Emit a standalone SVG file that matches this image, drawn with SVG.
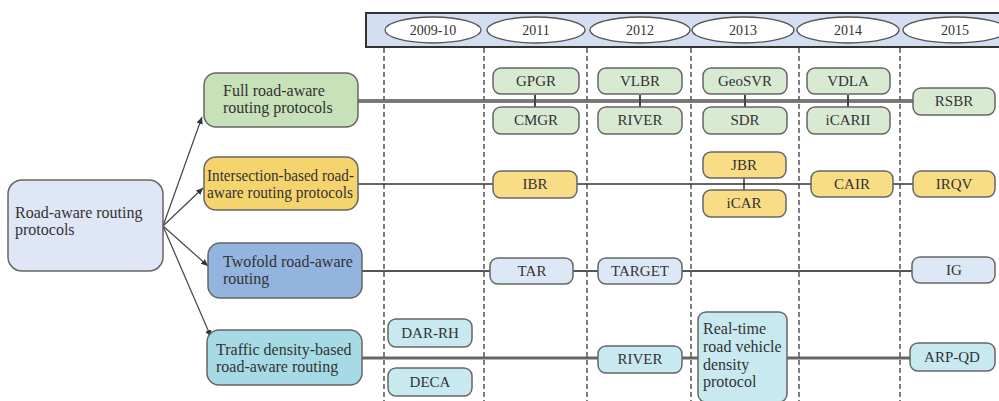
<svg xmlns="http://www.w3.org/2000/svg" width="999" height="401" viewBox="0 0 999 401">
<defs>
<marker id="ah" markerWidth="8" markerHeight="8" refX="7" refY="4" orient="auto" markerUnits="userSpaceOnUse">
<path d="M0,0.8 L7,4 L0,7.2 Z" fill="#333"/>
</marker>
</defs>
<style>
text{font-family:"Liberation Serif","DejaVu Serif",serif;fill:#333;}
.t{font-size:16px;}
.c{font-size:15px;text-anchor:middle;}
.y{font-size:14px;text-anchor:middle;}
.box{stroke:#666;stroke-width:1.5;}
.g{fill:#d9ead3;}
.yl{fill:#f8dc86;}
.b{fill:#dce8f6;}
.cy{fill:#c8e9f0;}
.dash{stroke:#555;stroke-width:1.5;stroke-dasharray:5,3;fill:none;}
.arr{stroke:#444;stroke-width:1.2;fill:none;marker-end:url(#ah);}
.ell{fill:#fff;stroke:#555;stroke-width:1.3;}
</style>
<rect width="999" height="401" fill="#fff"/>

<!-- header -->
<g id="header">
<rect x="366" y="13" width="640" height="34" fill="#d3dff0" stroke="#333" stroke-width="2"/>
<ellipse class="ell" cx="433" cy="30" rx="48" ry="13"/>
<ellipse class="ell" cx="536" cy="30" rx="49" ry="13"/>
<ellipse class="ell" cx="640" cy="30" rx="50" ry="13"/>
<ellipse class="ell" cx="743" cy="30" rx="51" ry="13"/>
<ellipse class="ell" cx="848" cy="30" rx="51" ry="13"/>
<ellipse class="ell" cx="955" cy="30" rx="52" ry="13"/>
<text class="y" x="433" y="35">2009-10</text>
<text class="y" x="536" y="35">2011</text>
<text class="y" x="640" y="35">2012</text>
<text class="y" x="743" y="35">2013</text>
<text class="y" x="848" y="35">2014</text>
<text class="y" x="955" y="35">2015</text>
</g>

<!-- connectors -->
<g id="connectors">
<line class="dash" x1="384" y1="48" x2="384" y2="401"/>
<line class="dash" x1="484" y1="48" x2="484" y2="401"/>
<line class="dash" x1="587" y1="48" x2="587" y2="401"/>
<line class="dash" x1="691" y1="48" x2="691" y2="401"/>
<line class="dash" x1="799" y1="48" x2="799" y2="401"/>
<line class="dash" x1="900" y1="48" x2="900" y2="401"/>
<line class="arr" x1="163" y1="226" x2="202" y2="117"/>
<line class="arr" x1="163" y1="226" x2="203" y2="188"/>
<line class="arr" x1="163" y1="226" x2="208" y2="266"/>
<line class="arr" x1="163" y1="226" x2="211" y2="337"/>
<line x1="358" y1="101" x2="913" y2="101" stroke="#555" stroke-width="3.5"/>
<line x1="358" y1="101" x2="913" y2="101" stroke="#999" stroke-width="1"/>
<line x1="535" y1="95" x2="535" y2="107" stroke="#444" stroke-width="2"/>
<line x1="640" y1="95" x2="640" y2="107" stroke="#444" stroke-width="2"/>
<line x1="745" y1="95" x2="745" y2="107" stroke="#444" stroke-width="2"/>
<line x1="848" y1="95" x2="848" y2="107" stroke="#444" stroke-width="2"/>
<line x1="358" y1="184" x2="913" y2="184" stroke="#333" stroke-width="1.3"/>
<line x1="744" y1="178" x2="744" y2="190" stroke="#333" stroke-width="1.5"/>
<line x1="362" y1="271" x2="912" y2="271" stroke="#555" stroke-width="2"/>
<line x1="362" y1="358" x2="910" y2="358" stroke="#666" stroke-width="3"/>
</g>

<!-- root -->
<g id="root">
<rect class="box" x="8" y="180" width="155" height="91" rx="14" fill="#dfe6f5"/>
<text class="t" x="15" y="218">Road-aware routing</text>
<text class="t" x="15" y="235">protocols</text>
</g>

<!-- categories -->
<g id="cat-full">
<rect class="box" x="204" y="73" width="154" height="54" rx="12" fill="#c7e1b9"/>
<text class="t" x="223" y="96">Full road-aware</text>
<text class="t" x="223" y="113">routing protocols</text>
</g>
<g id="cat-inter">
<rect class="box" x="204" y="157" width="154" height="53" rx="12" fill="#f6d46d"/>
<text class="t" x="207" y="181" textLength="147" lengthAdjust="spacingAndGlyphs">Intersection-based road-</text>
<text class="t" x="207" y="198" textLength="146" lengthAdjust="spacingAndGlyphs">aware routing protocols</text>
</g>
<g id="cat-twofold">
<rect class="box" x="208" y="243" width="154" height="55" rx="12" fill="#92b4de"/>
<text class="t" x="223" y="267">Twofold road-aware</text>
<text class="t" x="223" y="284">routing</text>
</g>
<g id="cat-traffic">
<rect class="box" x="207" y="330" width="155" height="55" rx="12" fill="#a6dbe5"/>
<text class="t" x="216" y="355">Traffic density-based</text>
<text class="t" x="216" y="372">road-aware routing</text>
</g>

<!-- full row -->
<g id="GPGR"><rect class="box g" x="493" y="68" width="86" height="26" rx="8"/><text class="c" x="536" y="86">GPGR</text></g>
<g id="CMGR"><rect class="box g" x="493" y="107" width="86" height="27" rx="8"/><text class="c" x="536" y="125">CMGR</text></g>
<g id="VLBR"><rect class="box g" x="598" y="68" width="84" height="26" rx="8"/><text class="c" x="640" y="86">VLBR</text></g>
<g id="RIVER1"><rect class="box g" x="598" y="107" width="84" height="27" rx="8"/><text class="c" x="640" y="125">RIVER</text></g>
<g id="GeoSVR"><rect class="box g" x="703" y="68" width="84" height="26" rx="8"/><text class="c" x="745" y="86">GeoSVR</text></g>
<g id="SDR"><rect class="box g" x="703" y="107" width="84" height="27" rx="8"/><text class="c" x="745" y="125">SDR</text></g>
<g id="VDLA"><rect class="box g" x="807" y="68" width="83" height="26" rx="8"/><text class="c" x="848" y="86">VDLA</text></g>
<g id="iCARII"><rect class="box g" x="807" y="107" width="83" height="27" rx="8"/><text class="c" x="848" y="125">iCARII</text></g>
<g id="RSBR"><rect class="box g" x="913" y="88" width="82" height="27" rx="8"/><text class="c" x="954" y="106">RSBR</text></g>

<!-- intersection row -->
<g id="IBR"><rect class="box yl" x="493" y="171" width="84" height="27" rx="8"/><text class="c" x="535" y="189">IBR</text></g>
<g id="JBR"><rect class="box yl" x="703" y="152" width="83" height="26" rx="8"/><text class="c" x="744" y="170">JBR</text></g>
<g id="iCAR"><rect class="box yl" x="703" y="190" width="83" height="27" rx="8"/><text class="c" x="744" y="208">iCAR</text></g>
<g id="CAIR"><rect class="box yl" x="811" y="171" width="82" height="26" rx="8"/><text class="c" x="852" y="189">CAIR</text></g>
<g id="IRQV"><rect class="box yl" x="913" y="171" width="82" height="26" rx="8"/><text class="c" x="954" y="189">IRQV</text></g>

<!-- twofold row -->
<g id="TAR"><rect class="box b" x="490" y="258" width="83" height="26" rx="8"/><text class="c" x="532" y="276">TAR</text></g>
<g id="TARGET"><rect class="box b" x="598" y="258" width="84" height="26" rx="8"/><text class="c" x="640" y="276">TARGET</text></g>
<g id="IG"><rect class="box b" x="912" y="257" width="83" height="26" rx="8"/><text class="c" x="954" y="275">IG</text></g>

<!-- traffic row -->
<g id="DAR-RH"><rect class="box cy" x="388" y="319" width="84" height="28" rx="8"/><text class="c" x="430" y="338">DAR-RH</text></g>
<g id="DECA"><rect class="box cy" x="388" y="368" width="84" height="28" rx="8"/><text class="c" x="430" y="387">DECA</text></g>
<g id="RIVER2"><rect class="box cy" x="598" y="346" width="84" height="27" rx="8"/><text class="c" x="640" y="364">RIVER</text></g>
<g id="RTRVDP"><rect class="box cy" x="698" y="312" width="89" height="90" rx="8"/>
<text class="t" x="703" y="334">Real-time</text>
<text class="t" x="703" y="352">road vehicle</text>
<text class="t" x="703" y="370">density</text>
<text class="t" x="703" y="387">protocol</text></g>
<g id="ARP-QD"><rect class="box cy" x="910" y="343" width="85" height="28" rx="8"/><text class="c" x="952" y="362">ARP-QD</text></g>
</svg>
